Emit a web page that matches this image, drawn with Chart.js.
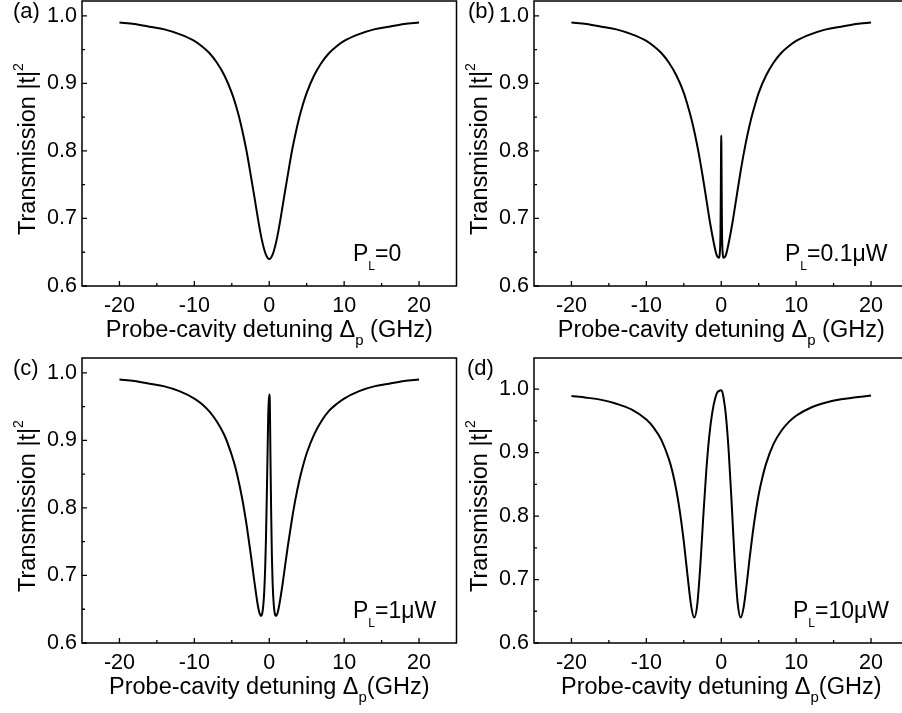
<!DOCTYPE html>
<html>
<head>
<meta charset="utf-8">
<script src="https://cdn.jsdelivr.net/npm/chart.js@4.4.1/dist/chart.umd.min.js"></script>
<style>
  html, body { margin:0; padding:0; background:#fff; }
  #wrap { position:relative; width:902px; height:713px; overflow:hidden; background:#fff; }
  canvas { position:absolute; }
</style>
</head>
<body>
<div id="wrap">
  <canvas id="ca" width="460" height="357" style="left:0px;top:0px"></canvas>
  <canvas id="cb" width="460" height="357" style="left:452px;top:0px"></canvas>
  <canvas id="cc" width="460" height="357" style="left:0px;top:357px"></canvas>
  <canvas id="cd" width="460" height="357" style="left:452px;top:357px"></canvas>
</div>
<script>
// ---- data ----
const xA = [-20,-18,-16,-14,-12,-10,-9,-8,-7,-6,-5,-4.5,-4,-3.5,-3,-2.5,-2,-1.5,-1,-0.5,0,0.5,1,1.5,2,2.5,3,3.5,4,4.5,5,6,7,8,9,10,12,14,16,18,20];
const yA = [0.990,0.988,0.984,0.980,0.973,0.963,0.955,0.945,0.931,0.912,0.886,0.869,0.849,0.825,0.798,0.766,0.733,0.699,0.669,0.648,0.640,0.648,0.669,0.699,0.733,0.766,0.798,0.825,0.849,0.869,0.886,0.912,0.931,0.945,0.955,0.963,0.973,0.980,0.984,0.988,0.990];

const xB = [-20,-18,-16,-14,-12,-10,-9,-8,-7,-6,-5,-4.5,-4,-3.5,-3,-2.5,-2,-1.5,-1,-0.7,-0.5,-0.3,-0.2,-0.1,-0.05,-0.02,0,0.02,0.05,0.1,0.2,0.3,0.5,0.7,1,1.5,2,2.5,3,3.5,4,4.5,5,6,7,8,9,10,12,14,16,18,20];
const yB = [0.990,0.988,0.984,0.980,0.973,0.963,0.955,0.945,0.931,0.912,0.886,0.868,0.848,0.824,0.796,0.764,0.729,0.694,0.664,0.649,0.643,0.642,0.648,0.681,0.755,0.810,0.823,0.810,0.755,0.681,0.648,0.642,0.643,0.649,0.664,0.694,0.729,0.764,0.796,0.824,0.848,0.868,0.886,0.912,0.931,0.945,0.955,0.963,0.973,0.980,0.984,0.988,0.990];

const xC = [-20,-18,-16,-14,-12,-10,-9,-8,-7,-6,-5,-4.5,-4,-3.5,-3,-2.5,-2,-1.75,-1.5,-1.3,-1.1,-0.9,-0.7,-0.55,-0.45,-0.35,-0.25,-0.15,-0.08,0,0.08,0.15,0.25,0.35,0.45,0.6,0.75,0.9,1.1,1.3,1.5,1.75,2,2.5,3,3.5,4,4.5,5,6,7,8,9,10,12,14,16,18,20];
const yC = [0.990,0.988,0.984,0.980,0.973,0.962,0.954,0.943,0.928,0.908,0.878,0.859,0.835,0.807,0.773,0.734,0.692,0.672,0.654,0.644,0.640,0.646,0.670,0.709,0.749,0.804,0.865,0.930,0.955,0.968,0.955,0.885,0.797,0.730,0.689,0.657,0.643,0.640,0.644,0.654,0.667,0.685,0.705,0.745,0.781,0.813,0.840,0.862,0.881,0.909,0.929,0.944,0.954,0.962,0.973,0.980,0.984,0.988,0.990];

const xD = [-20,-18,-16,-14,-12,-10,-9,-8,-7,-6.5,-6,-5.5,-5,-4.5,-4,-3.6,-3.2,-2.8,-2.4,-2,-1.6,-1.2,-0.8,-0.5,-0.3,-0.1,0.1,0.3,0.6,1,1.4,1.8,2.2,2.6,3,3.4,3.8,4.2,4.6,5,5.5,6,7,8,9,10,12,14,16,18,20];
const yD = [0.989,0.9865,0.983,0.977,0.968,0.952,0.939,0.920,0.890,0.869,0.841,0.805,0.760,0.706,0.657,0.640,0.661,0.721,0.799,0.871,0.926,0.963,0.986,0.9955,0.997,0.998,0.997,0.987,0.961,0.901,0.818,0.728,0.662,0.640,0.657,0.693,0.735,0.773,0.806,0.834,0.861,0.883,0.914,0.934,0.948,0.958,0.971,0.979,0.984,0.987,0.990];

const xTicks = [-20,-10,0,10,20];
const xMinorTicks = [-25,-15,-5,5,15,25];
const yTicks = [0.6,0.7,0.8,0.9,1.0];
const yMinorTicks = [0.65,0.75,0.85,0.95,1.05];

const panelLabels = ['(a)','(b)','(c)','(d)'];
const powerLabels = ['=0','=0.1\u03bcW','=1\u03bcW','=10\u03bcW'];
const xTitleTails = [' (GHz)',' (GHz)','(GHz)','(GHz)'];

// ---- drawing ----
const FONT = "'Liberation Sans', Arial, Helvetica, sans-serif";
Chart.defaults.font.family = FONT;
Chart.defaults.color = '#000';

function drawSegments(ctx, segs, x, y) {
  let cx = x;
  for (const s of segs) {
    ctx.font = s.size + 'px ' + FONT;
    ctx.fillText(s.t, cx, y + (s.dy || 0));
    cx += ctx.measureText(s.t).width;
  }
}
function segWidth(ctx, segs) {
  let w = 0;
  for (const s of segs) { ctx.font = s.size + 'px ' + FONT; w += ctx.measureText(s.t).width; }
  return w;
}

const decor = {
  id: 'decor',
  afterDraw(chart) {
    const o = chart.options.plugins.decor;
    const ctx = chart.ctx;
    const {left, right, top, bottom} = chart.chartArea;
    const xs = chart.scales.x, ys = chart.scales.y;
    ctx.save();
    ctx.strokeStyle = '#000';
    ctx.fillStyle = '#000';
    ctx.lineWidth = 1.5;
    ctx.strokeRect(left, top, right - left, bottom - top);
    ctx.lineWidth = 1.3;
    ctx.beginPath();
    for (const v of xTicks) { const p = xs.getPixelForValue(v); ctx.moveTo(p, bottom); ctx.lineTo(p, bottom - 5); }
    for (const v of xMinorTicks) { if (v <= xs.min || v >= xs.max) continue; const p = xs.getPixelForValue(v); ctx.moveTo(p, bottom); ctx.lineTo(p, bottom - 3); }
    for (const v of yTicks) { const p = ys.getPixelForValue(v); ctx.moveTo(left, p); ctx.lineTo(left + 5, p); }
    for (const v of yMinorTicks) { if (v >= ys.max) continue; const p = ys.getPixelForValue(v); ctx.moveTo(left, p); ctx.lineTo(left + 3, p); }
    ctx.stroke();

    ctx.textBaseline = 'alphabetic';
    ctx.textAlign = 'left';
    ctx.font = '22px ' + FONT;
    ctx.fillText(o.label, o.labelX, 18);
    drawSegments(ctx, [{t:'P', size:23}, {t:'L', size:12, dy:9}, {t:o.power, size:23}], o.powerX, 261);
    const xseg = [{t:'Probe-cavity detuning \u0394', size:23.5}, {t:'p', size:15, dy:8}, {t:o.tail, size:23.5}];
    const w = segWidth(ctx, xseg);
    drawSegments(ctx, xseg, (left + right) / 2 - w / 2, 337);
    ctx.translate(35, 235);
    ctx.rotate(-Math.PI / 2);
    drawSegments(ctx, [{t:'Transmission |t|', size:23.5}, {t:'2', size:14, dy:-12}], 0, 0);
    ctx.restore();
  }
};

function makePanel(id, xs, ys, ymax, idx, labelX, powerX) {
  const pts = xs.map((x, i) => ({x: x, y: ys[i]}));
  return new Chart(document.getElementById(id), {
    type: 'line',
    data: { datasets: [{ data: pts, borderColor: '#000', borderWidth: 2, pointRadius: 0, fill: false, cubicInterpolationMode: 'monotone' }] },
    options: {
      responsive: false, animation: false, devicePixelRatio: 1,
      layout: { padding: { top: 1, right: 3.5, left: 0, bottom: 0 } },
      plugins: {
        legend: { display: false }, tooltip: { enabled: false },
        decor: { label: panelLabels[idx], labelX: labelX, power: powerLabels[idx], powerX: powerX, tail: xTitleTails[idx] }
      },
      scales: {
        x: {
          type: 'linear', min: -25, max: 25,
          afterBuildTicks: s => { s.ticks = xTicks.map(v => ({value: v})); },
          afterFit: s => { s.height = 71; s.paddingLeft = 0; s.paddingRight = 0; },
          grid: { display: false, drawTicks: false }, border: { display: false },
          ticks: { padding: 7, font: { size: 21.5 }, color: '#000', maxRotation: 0, callback: v => String(v) }
        },
        y: {
          type: 'linear', min: 0.6, max: ymax,
          afterBuildTicks: s => { s.ticks = yTicks.map(v => ({value: v})); },
          afterFit: s => { s.width = 82; s.paddingTop = 0; s.paddingBottom = 0; },
          grid: { display: false, drawTicks: false }, border: { display: false },
          ticks: { padding: 5, font: { size: 21.5 }, color: '#000', callback: v => Number(v).toFixed(1) }
        }
      }
    },
    plugins: [decor]
  });
}

makePanel('ca', xA, yA, 1.022, 0, 13, 353);
makePanel('cb', xB, yB, 1.022, 1, 16, 333);
makePanel('cc', xC, yC, 1.022, 2, 13, 353);
makePanel('cd', xD, yD, 1.049, 3, 15, 341);
</script>
</body>
</html>
